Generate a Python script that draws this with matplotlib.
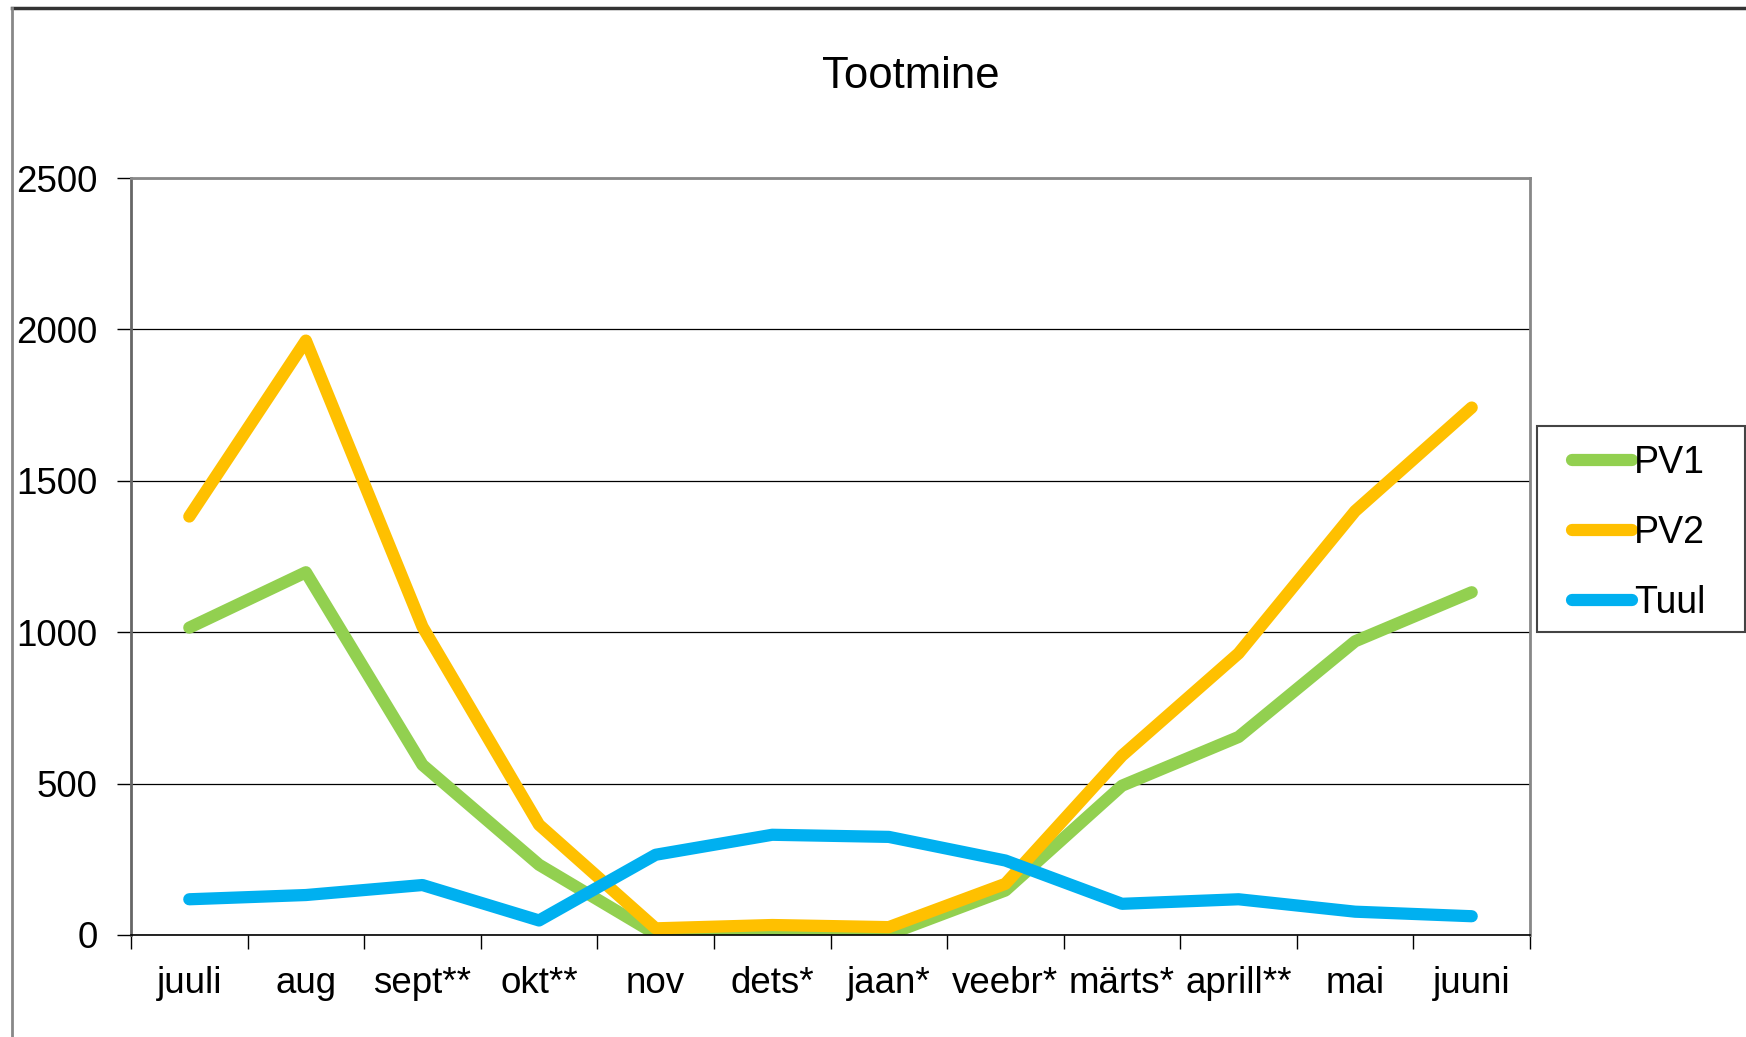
import numpy as np
import matplotlib
matplotlib.use("Agg")
import matplotlib.pyplot as plt
from matplotlib.lines import Line2D
from matplotlib.patches import Rectangle

plt.rcParams['font.family'] = ['Liberation Sans', 'DejaVu Sans']

# Data
months = ['juuli', 'aug', 'sept**', 'okt**', 'nov', 'dets*', 'jaan*',
          'veebr*', 'märts*', 'aprill**', 'mai', 'juuni']
pv1 = [1015, 1198, 562, 232, 3, 8, 2, 147, 493, 654, 970, 1132]
pv2 = [1382, 1963, 1018, 364, 22, 33, 26, 169, 592, 930, 1400, 1742]
tuul = [118, 132, 165, 48, 265, 331, 324, 246, 103, 118, 77, 62]

series = [('PV1', pv1, '#92D050'), ('PV2', pv2, '#FFC000'), ('Tuul', tuul, '#00B0F0')]

W, H = 1746, 1037
fig = plt.figure(figsize=(W / 100, H / 100), dpi=100)

# plot area in pixels: left 131, right 1530, top 178, bottom 935
ax = fig.add_axes([131 / W, 1 - 935 / H, (1530 - 131) / W, (935 - 178) / H])

x = np.arange(len(months)) + 0.5
for name, vals, col in series:
    ax.plot(x, vals, color=col, lw=8.8, solid_capstyle='round',
            solid_joinstyle='round', label=name)

ax.set_xlim(0, len(months))
ax.set_ylim(0, 2500)
ax.set_yticks(np.arange(0, 2501, 500))
ax.yaxis.grid(True, color='black', lw=0.9)
ax.set_axisbelow(True)

ax.set_xticks(np.arange(0, len(months) + 1))
ax.set_xticklabels([])
ax.set_xticks(x, minor=True)
ax.set_xticklabels(months, minor=True)
ax.tick_params(axis='x', which='minor', length=0, pad=22, labelsize=26.5)
ax.tick_params(axis='x', which='major', length=10, width=1, direction='out')
ax.tick_params(axis='y', length=10, width=1, direction='out', pad=14, labelsize=26.5)

for s in ['top', 'right']:
    ax.spines[s].set_color('#888888')
    ax.spines[s].set_linewidth(2)
ax.spines['left'].set_color('#666666')
ax.spines['left'].set_linewidth(2)
ax.spines['bottom'].set_color('black')
ax.spines['bottom'].set_linewidth(1.2)

fig.text(911 / W, 1 - 76 / H, 'Tootmine', ha='center', va='center', fontsize=31.5)

# legend box: x 1537..1746, y 426..632 px
fig.add_artist(Rectangle((1537 / W, 1 - 632 / H), (1745 - 1537) / W, (632 - 426) / H,
                         transform=fig.transFigure, fill=False,
                         edgecolor='#444444', lw=1.5))
handles = [Line2D([0], [0], color=c, lw=8.8, solid_capstyle='round') for _, _, c in series]
leg = fig.legend(handles, [n for n, _, _ in series],
                 loc='center left', bbox_to_anchor=(1572 / W, 1 - 533 / H),
                 frameon=False, fontsize=27, handlelength=1.6,
                 handletextpad=0.05, labelspacing=0.9, borderpad=0,
                 borderaxespad=0)

# outer chart border (top and left edges visible)
fig.add_artist(Line2D([12 / W, 1], [1 - 8 / H, 1 - 8 / H], color='#333333', lw=2.5))
fig.add_artist(Line2D([12 / W, 12 / W], [0, 1 - 8 / H], color='#888888', lw=2))

fig.savefig('out.png', dpi=100)
